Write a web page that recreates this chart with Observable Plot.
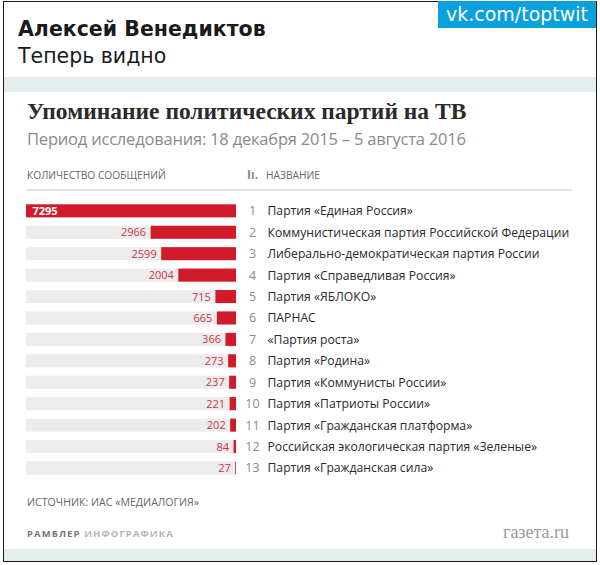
<!DOCTYPE html>
<html>
<head>
<meta charset="utf-8">
<script src="https://cdn.jsdelivr.net/npm/d3@7"></script>
<script src="https://cdn.jsdelivr.net/npm/@observablehq/plot@0.6"></script>
<style>
  html, body { margin: 0; padding: 0; background: #fff; }
  #wrap { position: relative; width: 600px; height: 565px; overflow: hidden; background: #fff; }
  .abs { position: absolute; white-space: nowrap; line-height: 1; }
  #frame { position: absolute; left: 3px; top: 1px; width: 592px; height: 559px; border: 1px solid #1a1a1a; box-sizing: content-box; }
  #bandTop { position: absolute; left: 4px; top: 77px; width: 592px; height: 15px; background: #e2eeee; }
  #bandBot { position: absolute; left: 4px; top: 549px; width: 592px; height: 12px; background: #e2eeee; }
  #author { left: 18px; top: 17px; font: bold 20.5px "DejaVu Sans", sans-serif; color: #1a1a1a; }
  #post { left: 18px; top: 44px; font: 20.5px "DejaVu Sans", sans-serif; color: #1a1a1a; }
  #vk { left: 438px; top: 1px; width: 158px; height: 27px; background: #0aa0dc; color: #fff; font: 19px "DejaVu Sans", sans-serif; line-height: 27px; text-align: center; }
  #title { left: 27px; top: 98px; font: bold 23.5px "Liberation Serif", serif; color: #2a2a2a; }
  #subtitle { left: 27px; top: 127px; font: 16.5px "Open Sans", sans-serif; color: #8a8a8a; letter-spacing: -0.2px; }
  .colhead { top: 168px; font: 10.2px "Open Sans", sans-serif; color: #666; }
  #rule { position: absolute; left: 27px; top: 189px; width: 545px; height: 2px; background: #e2e2e2; }
  #source { left: 27px; top: 495px; font: 10.6px "Open Sans", sans-serif; color: #666; }
  #rambler { left: 27px; top: 527px; font: bold 9.5px "Open Sans", sans-serif; color: #777; letter-spacing: 1.1px; }
  #rambler span { font-weight: bold; color: #b5b5b5; }
  #gazeta { left: 503px; top: 522px; font: 18px "Liberation Serif", serif; color: #9a9a9a; }
  #chart { position: absolute; left: 0; top: 190px; }
  #chart svg { display: block; }
</style>
</head>
<body>
<div id="wrap">
  <div id="bandTop"></div>
  <div id="bandBot"></div>
  <div id="frame"></div>
  <div class="abs" id="author">Алексей Венедиктов</div>
  <div class="abs" id="post">Теперь видно</div>
  <div class="abs" id="vk">vk.com/toptwit</div>
  <div class="abs" id="title">Упоминание политических партий на ТВ</div>
  <div class="abs" id="subtitle">Период исследования: 18 декабря 2015 – 5 августа 2016</div>
  <div class="abs colhead" style="left:27px">КОЛИЧЕСТВО СООБЩЕНИЙ</div>
  <div class="abs colhead" style="left:247px;font-weight:bold;font-size:12px;top:166px;color:#888">Iı.</div>
  <div class="abs colhead" style="left:266px">НАЗВАНИЕ</div>
  <div id="rule"></div>
  <div class="abs" id="source">ИСТОЧНИК: ИАС «МЕДИАЛОГИЯ»</div>
  <div class="abs" id="rambler">РАМБЛЕР <span>ИНФОГРАФИКА</span></div>
  <div class="abs" id="gazeta">газета.ru</div>
  <div id="chart"></div>
</div>
<script>
const ranks = [1, 2, 3, 4, 5, 6, 7, 8, 9, 10, 11, 12, 13];
const parties = [
  "Партия «Единая Россия»",
  "Коммунистическая партия Российской Федерации",
  "Либерально-демократическая партия России",
  "Партия «Справедливая Россия»",
  "Партия «ЯБЛОКО»",
  "ПАРНАС",
  "«Партия роста»",
  "Партия «Родина»",
  "Партия «Коммунисты России»",
  "Партия «Патриоты России»",
  "Партия «Гражданская платформа»",
  "Российская экологическая партия «Зеленые»",
  "Партия «Гражданская сила»"
];
const mentions = [7295, 2966, 2599, 2004, 715, 665, 366, 273, 237, 221, 202, 84, 27];

const data = ranks.map((r, i) => ({rank: r, party: parties[i], value: mentions[i]}));
const maxVal = d3.max(mentions);
const first = data.slice(0, 1);
const rest = data.slice(1);

const chart = Plot.plot({
  width: 600,
  height: 295,
  margin: 0,
  style: {background: "transparent", fontFamily: "Open Sans, sans-serif"},
  x: {domain: [0, maxVal], range: [236, 26], axis: null},
  y: {type: "band", domain: ranks, range: [14.3, 284.5], paddingInner: 0.39, paddingOuter: 0, round: false, axis: null},
  marks: [
    Plot.barX(data, {x1: () => 0, x2: () => maxVal, y: "rank", fill: "#ececec"}),
    Plot.barX(data, {x1: () => 0, x2: "value", y: "rank", fill: "#d11a2a"}),
    Plot.text(rest, {x: "value", y: "rank", text: d => String(d.value), dx: -5, textAnchor: "end", fill: "#cc3347", fontSize: 11}),
    Plot.text(first, {x: "value", y: "rank", text: d => String(d.value), dx: 6, textAnchor: "start", fill: "#fff", fontSize: 11, fontWeight: "bold"}),
    Plot.text(data, {x: () => 0, y: "rank", text: d => String(d.rank), dx: 16, textAnchor: "middle", fill: "#8a8a8a", fontSize: 12.5}),
    Plot.text(data, {x: () => 0, y: "rank", text: "party", dx: 31, textAnchor: "start", fill: "#2a2a2a", fontSize: 12.2})
  ]
});
document.getElementById("chart").appendChild(chart);
</script>
</body>
</html>
